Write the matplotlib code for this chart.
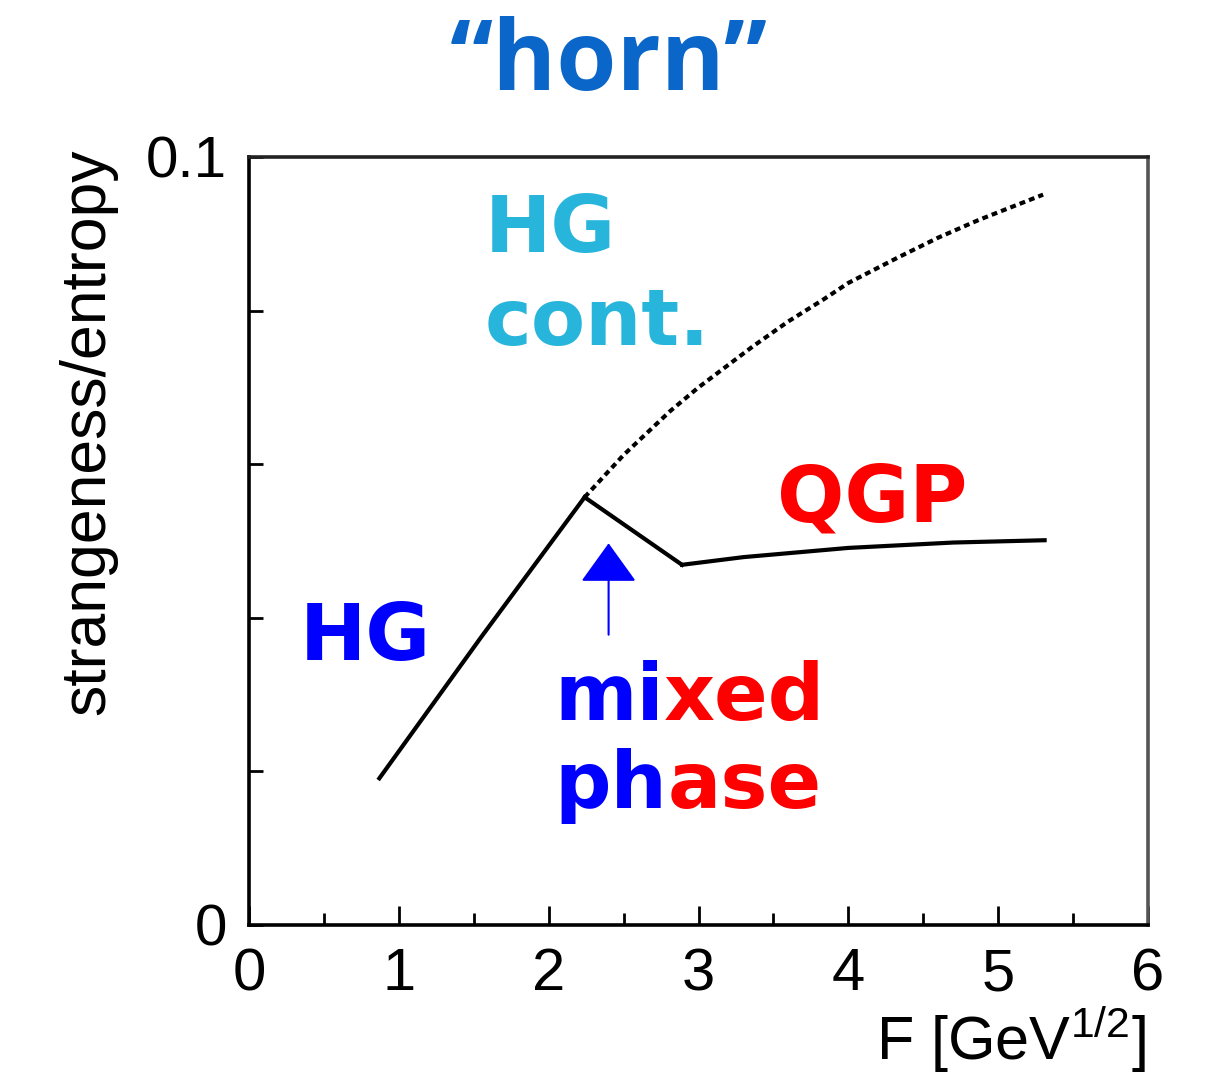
import matplotlib
matplotlib.use("Agg")
import matplotlib.pyplot as plt
from matplotlib.ticker import MultipleLocator, FixedLocator

plt.rcParams['font.family'] = ['Liberation Sans', 'DejaVu Sans']
plt.rcParams['mathtext.fontset'] = 'custom'
plt.rcParams['mathtext.rm'] = 'Liberation Sans'
plt.rcParams['mathtext.it'] = 'Liberation Sans'

# Hadron-gas branch (solid) up to the onset of deconfinement
hg_F = [0.87, 1.55, 2.24]
hg_s = [0.0191, 0.0375, 0.0557]

# Hadron-gas continuation (dotted) beyond the onset
hgc_F = [2.24, 2.5, 2.81, 3.0, 3.36, 3.6, 3.83, 4.0, 4.34, 4.6, 4.87, 5.0, 5.30]
hgc_s = [0.0557, 0.0612, 0.0669, 0.0700, 0.0753, 0.0786, 0.0814, 0.0836,
         0.0870, 0.0895, 0.0918, 0.0928, 0.0951]

# Mixed phase drop and QGP plateau
mix_F = [2.24, 2.89]
mix_s = [0.0557, 0.0469]
qgp_F = [2.89, 3.3, 4.0, 4.7, 5.31]
qgp_s = [0.0469, 0.0479, 0.0491, 0.0498, 0.0501]

x_ticks = [0, 1, 2, 3, 4, 5, 6]
y_ticks = [0, 0.02, 0.04, 0.06, 0.08, 0.1]
y_tick_labels = ['0', '', '', '', '', '0.1']

fig = plt.figure(figsize=(12.1, 10.79), dpi=100)
ax = fig.add_axes([249 / 1210, 154 / 1079, 899 / 1210, 768 / 1079])

ax.plot(hg_F, hg_s, color='black', lw=3.0)
ax.plot(hgc_F, hgc_s, color='black', lw=3.0, linestyle=(0, (1.4, 1.0)))
ax.plot(mix_F, mix_s, color='black', lw=3.0)
ax.plot(qgp_F, qgp_s, color='black', lw=3.0)

ax.set_xlim(0, 6)
ax.set_ylim(0, 0.1)

ax.xaxis.set_major_locator(FixedLocator(x_ticks))
ax.xaxis.set_minor_locator(MultipleLocator(0.5))
ax.yaxis.set_major_locator(FixedLocator(y_ticks))
ax.set_yticklabels(y_tick_labels)
ax.tick_params(axis='x', which='major', direction='in', length=14, width=2,
               labelsize=43, pad=16)
ax.tick_params(axis='x', which='minor', direction='in', length=9, width=2)
ax.tick_params(axis='y', which='major', direction='in', length=10, width=2,
               labelsize=42, pad=16)
for sp in ax.spines.values():
    sp.set_linewidth(2.6)
ax.spines['right'].set_color('#555555')
ax.spines['top'].set_color('#222222')

fig.text(88 / 1210, 1 - 432 / 1079, 'strangeness/entropy', rotation=90,
         ha='center', va='center', fontsize=45)
fig.text(1146 / 1210, 1 - 1040 / 1079, r'F [GeV$^{1/2}$]', ha='right',
         va='center', fontsize=44)

fig.text(609 / 1210, 1 - 90 / 1079, '\u201chorn\u201d', ha='center', va='baseline',
         fontsize=70, fontweight='bold', color='#0a66c8',
         family=['Open Sans', 'DejaVu Sans'])

# Region labels
lab_font = ['DejaVu Sans']
lab_size = 57
cyan = '#27b5dc'
blue = '#0000ff'
red = '#ff0000'
ax.text(1.573, 0.0876, 'HG', color=cyan, fontsize=lab_size, fontweight='bold',
        family=lab_font, ha='left', va='baseline')
ax.text(1.573, 0.0755, 'cont.', color=cyan, fontsize=lab_size, fontweight='bold',
        family=lab_font, ha='left', va='baseline')
ax.text(0.34, 0.0345, 'HG', color=blue, fontsize=lab_size, fontweight='bold',
        family=lab_font, ha='left', va='baseline')
ax.text(3.527, 0.0525, 'QGP', color=red, fontsize=lab_size, fontweight='bold',
        family=lab_font, ha='left', va='baseline')

t1 = ax.text(2.04, 0.0267, 'mi', color=blue, fontsize=lab_size, fontweight='bold',
             family=lab_font, ha='left', va='baseline')
ax.annotate('xed', xy=(1, 0), xycoords=t1, color=red, fontsize=lab_size,
            fontweight='bold', family=lab_font, ha='left', va='bottom')
t2 = ax.text(2.04, 0.0152, 'ph', color=blue, fontsize=lab_size, fontweight='bold',
             family=lab_font, ha='left', va='baseline')
ax.annotate('ase', xy=(1, 0), xycoords=t2, color=red, fontsize=lab_size,
            fontweight='bold', family=lab_font, ha='left', va='bottom')

# Arrow marking the onset of deconfinement
ax.annotate('', xy=(2.4, 0.0497), xytext=(2.4, 0.0378),
            arrowprops=dict(arrowstyle='-|>,head_length=2.5,head_width=1.8',
                            color=blue, lw=1.5, shrinkA=0, shrinkB=0))

fig.savefig('out.png', dpi=100)
